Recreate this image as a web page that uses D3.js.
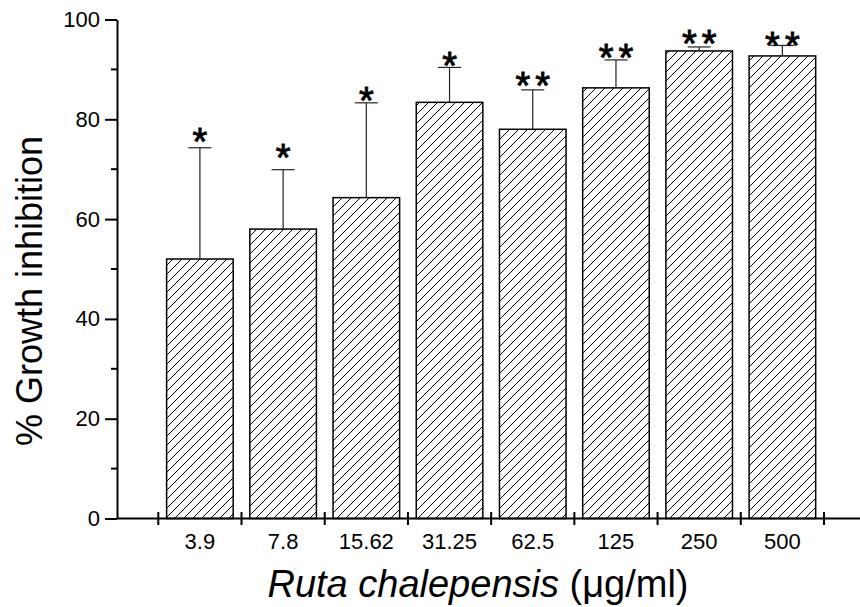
<!DOCTYPE html>
<html>
<head>
<meta charset="utf-8">
<script src="https://cdn.jsdelivr.net/npm/d3@7"></script>
<style>
  body { margin: 0; background: #fff; }
  svg text { font-family: "Liberation Sans", Arial, sans-serif; fill: #000; }
</style>
</head>
<body>
<div id="chart"></div>
<script>
// concentrations (ug/ml)
let concentrations = ["3.9", "7.8", "15.62", "31.25", "62.5", "125", "250", "500"];
// mean % growth inhibition
let inhibition = [52.0, 58.0, 64.3, 83.4, 78.0, 86.3, 93.7, 92.7];
// upper error (mean + SD)
let errorTop = [74.3, 69.9, 83.3, 90.4, 85.9, 91.9, 94.5, 94.8];
// significance marks and the level they sit at
let significance = ["*", "*", "*", "*", "**", "**", "**", "**"];
let sigLevel = [76.0, 72.8, 84.3, 91.2, 87.3, 92.9, 95.6, 95.3];
let yTicks = [0, 20, 40, 60, 80, 100];
let yMinorTicks = [10, 30, 50, 70, 90];

let width = 860,
    height = 607;

let svg = d3.select("#chart")
    .append("svg")
    .attr("width", width)
    .attr("height", height);

// hatch pattern
let defs = svg.append("defs");
let pat = defs.append("pattern")
    .attr("id", "hatch")
    .attr("patternUnits", "userSpaceOnUse")
    .attr("width", 9)
    .attr("height", 9);
pat.append("rect").attr("width", 9).attr("height", 9).attr("fill", "#fff");
pat.append("path")
    .attr("d", "M0,9 L9,0 M-2.25,2.25 L2.25,-2.25 M6.75,11.25 L11.25,6.75")
    .attr("stroke", "#000")
    .attr("stroke-width", 1);

let plotLeft = 117, plotRight = 860;

let x = d3.scaleBand()
    .domain(concentrations)
    .range([158.3, 824])
    .paddingInner(0.2)
    .paddingOuter(0.1);

let y = d3.scaleLinear()
    .domain([0, 100])
    .range([518.5, 19.5]);

// bars
svg.append("g")
    .selectAll("rect")
    .data(concentrations)
    .enter().append("rect")
    .attr("x", d => x(d))
    .attr("y", (d, i) => y(inhibition[i]))
    .attr("width", x.bandwidth())
    .attr("height", (d, i) => y(0) - y(inhibition[i]))
    .attr("fill", "url(#hatch)")
    .attr("stroke", "#000")
    .attr("stroke-width", 1.5);

// error bars
let eb = svg.append("g")
    .attr("stroke", "#222")
    .attr("stroke-width", 1.2);
concentrations.forEach(function(c, i) {
    let cx = x(c) + x.bandwidth() / 2;
    eb.append("line")
        .attr("x1", cx).attr("x2", cx)
        .attr("y1", y(inhibition[i])).attr("y2", y(errorTop[i]));
    eb.append("line")
        .attr("x1", cx - 11.5).attr("x2", cx + 11.5)
        .attr("y1", y(errorTop[i])).attr("y2", y(errorTop[i]));
});

// stars (letter-spacing adds a trailing gap, so nudge right by half)
svg.append("g")
    .selectAll("text")
    .data(concentrations)
    .enter().append("text")
    .attr("x", d => x(d) + x.bandwidth() / 2 + 2.5)
    .attr("y", (d, i) => y(sigLevel[i]) + 16)
    .attr("text-anchor", "middle")
    .attr("font-size", 38)
    .attr("letter-spacing", 5)
    .attr("stroke", "#000")
    .attr("stroke-width", 0.9)
    .text((d, i) => significance[i]);

// y axis
let yAxis = svg.append("g")
    .attr("transform", `translate(${plotLeft},0)`)
    .call(d3.axisLeft(y).tickValues(yTicks).tickSize(12).tickSizeOuter(0).tickPadding(5));
yAxis.selectAll("text").attr("font-size", 22);
yAxis.select(".domain").attr("stroke-width", 2);
yAxis.selectAll(".tick line").attr("stroke-width", 2);
svg.append("g")
    .attr("transform", `translate(${plotLeft},0)`)
    .selectAll("line")
    .data(yMinorTicks)
    .enter().append("line")
    .attr("x1", -6).attr("x2", 0)
    .attr("y1", d => y(d)).attr("y2", d => y(d))
    .attr("stroke", "#000")
    .attr("stroke-width", 2);

// x axis
let xAxis = svg.append("g");
xAxis.append("line")
    .attr("x1", plotLeft).attr("x2", plotRight)
    .attr("y1", y(0)).attr("y2", y(0))
    .attr("stroke", "#000")
    .attr("stroke-width", 2);
let boundaries = d3.range(concentrations.length + 1).map(i => x.range()[0] + i * x.step());
xAxis.selectAll(".xt")
    .data(boundaries)
    .enter().append("line")
    .attr("x1", d => d).attr("x2", d => d)
    .attr("y1", y(0) - 6.5).attr("y2", y(0) + 6.5)
    .attr("stroke", "#000")
    .attr("stroke-width", 2);
xAxis.selectAll(".xl")
    .data(concentrations)
    .enter().append("text")
    .attr("x", d => x(d) + x.bandwidth() / 2)
    .attr("y", 549)
    .attr("text-anchor", "middle")
    .attr("font-size", 22)
    .text(d => d);

// axis titles
svg.append("text")
    .attr("transform", "translate(42,291) rotate(-90)")
    .attr("text-anchor", "middle")
    .attr("font-size", 36)
    .text("% Growth inhibition");

let xt = svg.append("text")
    .attr("x", 478)
    .attr("y", 597)
    .attr("text-anchor", "middle")
    .attr("font-size", 38);
xt.append("tspan").attr("font-style", "italic").text("Ruta chalepensis");
xt.append("tspan").text(" (\u03bcg/ml)");
</script>
</body>
</html>
